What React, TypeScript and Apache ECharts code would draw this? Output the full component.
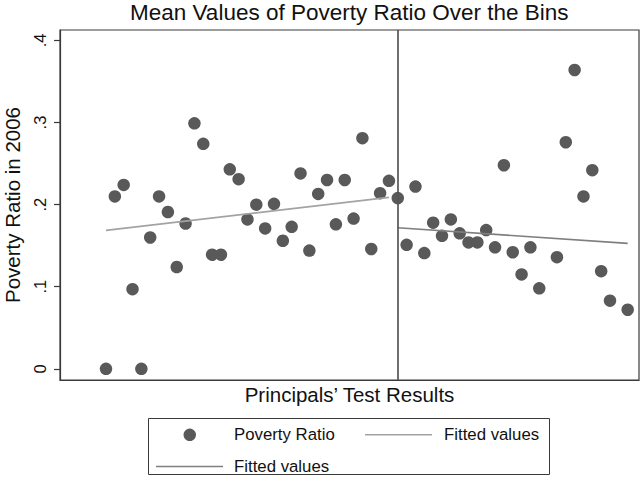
import { useEffect, useRef } from 'react';
import * as echarts from 'echarts';

const titleText = 'Mean Values of Poverty Ratio Over the Bins';
const xAxisTitle = 'Principals’ Test Results';
const yAxisTitle = 'Poverty Ratio in 2006';

const scatterName = 'Poverty Ratio';
const fitName = 'Fitted values';

// bin numbers (x) of the plotted bin means
const bins = [
  1, 2, 3, 4, 5, 6, 7, 8, 9, 10,
  11, 12, 13, 14, 15, 16, 17, 18, 19, 20,
  21, 22, 23, 24, 25, 26, 27, 28, 29, 30,
  31, 32, 33, 34, 35, 36, 37, 38, 39, 40,
  41, 42, 43, 44, 45, 46, 47, 48, 49, 50,
  52, 53, 54, 55, 56, 57, 58, 60,
];

// mean poverty ratio in each bin
const povertyRatio = [
  0.0, 0.21, 0.224, 0.097, 0.0, 0.16, 0.21, 0.191, 0.124, 0.177,
  0.299, 0.274, 0.139, 0.139, 0.243, 0.231, 0.182, 0.2, 0.171, 0.201,
  0.156, 0.173, 0.238, 0.144, 0.213, 0.23, 0.176, 0.23, 0.183, 0.281,
  0.146, 0.214, 0.229, 0.208, 0.151, 0.222, 0.141, 0.178, 0.162, 0.182,
  0.165, 0.154, 0.154, 0.169, 0.148, 0.248, 0.142, 0.115, 0.148, 0.098,
  0.136, 0.276, 0.364, 0.21, 0.242, 0.119, 0.083, 0.072,
];

const cutoffBin = 34;

const fitLeftX = [1, 33];
const fitLeftY = [0.1686, 0.2088];
const fitRightX = [34, 60];
const fitRightY = [0.1718, 0.1528];

const yTickValues = [0, 0.1, 0.2, 0.3, 0.4];
const yTickLabels = ['0', '.1', '.2', '.3', '.4'];

const FONT = '"Liberation Sans", Arial, Helvetica, sans-serif';
const POINT = '#595959';
const FIT_LIGHT = '#a3a3a3';
const FIT_DARK = '#7f7f7f';
const FRAME = '#3a3a3a';
const TEXT = '#111111';

const TITLE_SIZE = 22.5;
const PLOT_CENTER_X = 349.5;

function measure(text: string, size: number): number {
  const c = document.createElement('canvas').getContext('2d');
  if (!c) return text.length * size * 0.5;
  c.font = `${size}px ${FONT}`;
  return c.measureText(text).width;
}

export default function App() {
  const ref = useRef<HTMLDivElement>(null);

  useEffect(() => {
    if (!ref.current) return;
    const chart = echarts.init(ref.current, null, { renderer: 'svg' });
    const titleW = measure(titleText, TITLE_SIZE);

    const option: any = {
      animation: false,
      backgroundColor: '#ffffff',
      textStyle: { fontFamily: FONT },
      title: {
        text: titleText,
        left: Math.round(PLOT_CENTER_X - titleW / 2),
        top: 1,
        padding: 0,
        textStyle: { fontFamily: FONT, fontSize: TITLE_SIZE, fontWeight: 'normal', color: TEXT },
      },
      grid: {
        left: 60,
        right: 1,
        top: 30,
        bottom: 97,
        containLabel: false,
        outerBoundsMode: 'none',
        show: true,
        borderColor: FRAME,
        borderWidth: 1.2,
        backgroundColor: '#ffffff',
      },
      xAxis: {
        type: 'value',
        min: -4.202,
        max: 61.28,
        name: xAxisTitle,
        nameLocation: 'middle',
        nameGap: 4,
        nameTextStyle: { fontFamily: FONT, fontSize: 20.5, color: TEXT, verticalAlign: 'top' },
        axisLine: { show: true, onZero: false, lineStyle: { color: FRAME, width: 1.2 } },
        axisTick: { show: false },
        axisLabel: { show: false },
        splitLine: { show: false },
      },
      yAxis: {
        type: 'value',
        min: -0.0136,
        max: 0.4127,
        name: yAxisTitle,
        nameLocation: 'middle',
        nameGap: 35,
        nameRotate: 90,
        nameTextStyle: { fontFamily: FONT, fontSize: 20.5, color: TEXT },
        axisLine: { show: true, onZero: false, lineStyle: { color: FRAME, width: 1.2 } },
        axisTick: {
          show: true,
          length: 6,
          customValues: yTickValues,
          lineStyle: { color: FRAME, width: 1.2 },
        },
        axisLabel: {
          show: true,
          rotate: 90,
          margin: 12,
          customValues: yTickValues,
          fontFamily: FONT,
          fontSize: 16.5,
          color: TEXT,
          formatter: (v: number) => {
            const i = yTickValues.findIndex((t) => Math.abs(t - v) < 1e-9);
            return i >= 0 ? yTickLabels[i] : '';
          },
        },
        splitLine: { show: false },
      },
      legend: [
        {
          data: [{ name: scatterName, icon: 'circle' }],
          left: 183.5,
          top: 426.3,
          padding: 0,
          itemWidth: 12.5,
          itemHeight: 12.5,
          selectedMode: false,
          textStyle: { fontFamily: FONT, fontSize: 16.8, color: TEXT, lineHeight: 17, padding: [0, 0, 0, 33] },
        },
        {
          data: [{ name: fitName, icon: 'rect', itemStyle: { color: FIT_LIGHT } }],
          left: 365,
          top: 426.3,
          padding: 0,
          itemWidth: 67,
          itemHeight: 1.6,
          selectedMode: false,
          textStyle: { fontFamily: FONT, fontSize: 16.8, color: TEXT, lineHeight: 17, padding: [0, 0, 0, 7] },
        },
        {
          data: [{ name: fitName, icon: 'rect', itemStyle: { color: FIT_DARK } }],
          left: 156,
          top: 458,
          padding: 0,
          itemWidth: 67,
          itemHeight: 1.6,
          selectedMode: false,
          textStyle: { fontFamily: FONT, fontSize: 16.8, color: TEXT, lineHeight: 17, padding: [0, 0, 0, 6] },
        },
      ],
      graphic: [
        {
          type: 'rect',
          silent: true,
          shape: { x: 148.5, y: 418.5, width: 401, height: 56 },
          style: { fill: 'none', stroke: FRAME, lineWidth: 1 },
        },
      ],
      series: [
        {
          name: scatterName,
          type: 'scatter',
          data: bins.map((b, i) => [b, povertyRatio[i]]),
          symbol: 'circle',
          symbolSize: 12.5,
          itemStyle: { color: POINT, opacity: 1 },
          z: 3,
          markLine: {
            silent: true,
            symbol: ['none', 'none'],
            label: { show: false },
            lineStyle: { color: '#555555', width: 1.7, type: 'solid' },
            data: [{ xAxis: cutoffBin }],
          },
        },
        {
          name: fitName,
          type: 'line',
          data: fitLeftX.map((x, i) => [x, fitLeftY[i]]),
          symbol: 'none',
          showSymbol: false,
          lineStyle: { color: FIT_LIGHT, width: 1.6 },
          itemStyle: { color: FIT_LIGHT },
          z: 4,
        },
        {
          name: fitName,
          type: 'line',
          data: fitRightX.map((x, i) => [x, fitRightY[i]]),
          symbol: 'none',
          showSymbol: false,
          lineStyle: { color: FIT_DARK, width: 1.6 },
          itemStyle: { color: FIT_DARK },
          z: 4,
        },
      ],
    };

    chart.setOption(option);
    return () => chart.dispose();
  }, []);

  return (
    <div
      ref={ref}
      style={{ position: 'absolute', left: 0, top: 0, width: 640, height: 477 }}
    />
  );
}
